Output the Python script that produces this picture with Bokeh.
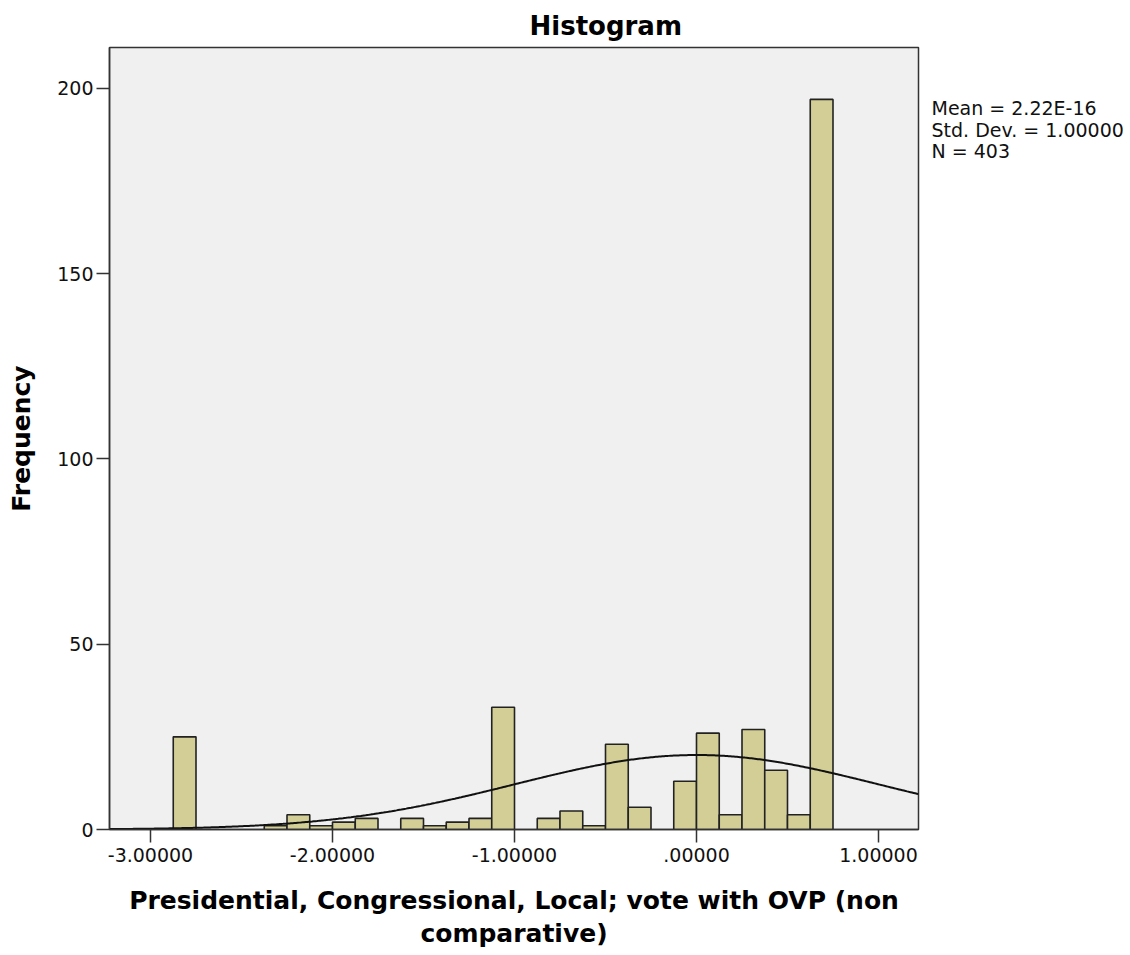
import numpy as np
from bokeh.plotting import figure
from bokeh.layouts import row
from bokeh.models import Range1d, FixedTicker, ColumnDataSource, Title
from bokeh.core.properties import value
from bokeh.embed import file_html
from bokeh.resources import INLINE

# ---- data ----
bin_start = -2.875
bin_width = 0.125
counts = [25, 0, 0, 0, 1, 4, 1, 2, 3, 0, 3, 1, 2, 3, 33,
          0, 3, 5, 1, 23, 6, 0, 13, 26, 4, 27, 16, 4, 197]
mean_val = 2.22e-16
std_dev = 1.0
n_total = 403
x_ticks = [-3, -2, -1, 0, 1]
x_tick_labels = ["-3.00000", "-2.00000", "-1.00000", ".00000", "1.00000"]
y_ticks = [0, 50, 100, 150, 200]
y_tick_labels = ["0", "50", "100", "150", "200"]
stats_lines = ["Mean = 2.22E-16", "Std. Dev. = 1.00000", "N = 403"]
title_text = "Histogram"
y_label = "Frequency"
x_label = "Presidential, Congressional, Local; vote with OVP (non\ncomparative)"

X0, X1 = -3.2253, 1.2198
Y0, Y1 = 0, 211.0
FONT = "DejaVu Sans"
DARK = "#333333"

lefts = [bin_start + i * bin_width for i, c in enumerate(counts) if c > 0]
rights = [l + bin_width for l in lefts]
tops = [c for c in counts if c > 0]
src = ColumnDataSource(dict(left=lefts, right=rights, top=tops, bottom=[0] * len(tops)))

p = figure(width=925, height=955, output_backend="svg", toolbar_location=None,
           x_range=Range1d(X0, X1), y_range=Range1d(Y0, Y1),
           min_border_left=109, min_border_right=7, min_border_top=47, min_border_bottom=126)
p.background_fill_color = "#F0F0F0"
p.border_fill_color = "white"
p.outline_line_color = DARK
p.outline_line_width = 1.5
p.xgrid.visible = False
p.ygrid.visible = False

p.quad(left="left", right="right", top="top", bottom="bottom", source=src,
       fill_color="#D3CE96", line_color="#222222", line_width=1.6)

xs = np.linspace(X0, X1, 500)
ys = n_total * bin_width * np.exp(-0.5 * ((xs - mean_val) / std_dev) ** 2) / (std_dev * np.sqrt(2 * np.pi))
p.line(xs, ys, line_color="#111111", line_width=2)

for ax in (p.xaxis[0], p.yaxis[0]):
    ax.minor_tick_line_color = None
    ax.major_tick_out = 13
    ax.major_tick_in = 0
    ax.major_tick_line_color = DARK
    ax.major_tick_line_width = 1.5
    ax.axis_line_color = DARK
    ax.axis_line_width = 1.5
    ax.major_label_text_font = FONT
    ax.major_label_text_font_size = "19px"
    ax.major_label_text_color = "#111111"
    ax.axis_label_text_font = FONT
    ax.axis_label_text_font_size = "25px"
    ax.axis_label_text_font_style = "bold"
    ax.axis_label_text_color = "black"

p.xaxis.ticker = FixedTicker(ticks=x_ticks)
p.xaxis.major_label_overrides = {t: s for t, s in zip(x_ticks, x_tick_labels)}
p.xaxis.major_label_standoff = 5
p.xaxis.axis_label = x_label
p.xaxis.axis_label_standoff = 21
p.xaxis.axis_label_text_line_height = 1.15

p.yaxis.ticker = FixedTicker(ticks=y_ticks)
p.yaxis.major_label_overrides = {t: s for t, s in zip(y_ticks, y_tick_labels)}
p.yaxis.major_label_standoff = 3
p.yaxis.axis_label = y_label
p.yaxis.axis_label_standoff = 18

p.add_layout(Title(text=title_text, align="left", offset=420, text_font=FONT,
                   text_font_size="26px", text_font_style="bold", text_color="black",
                   standoff=13), "above")

# stats panel to the right of the chart; its frame is aligned with the chart frame (y 47..829)
q = figure(width=205, height=955, output_backend="svg", toolbar_location=None,
           x_range=Range1d(0, 205), y_range=Range1d(829, 47),
           x_axis_location=None, y_axis_location=None,
           min_border_left=0, min_border_right=0, min_border_top=47, min_border_bottom=126)
q.outline_line_color = None
q.background_fill_color = "white"
q.border_fill_color = "white"
q.xgrid.visible = False
q.ygrid.visible = False
q.text(x=[6, 6, 6], y=[107.5, 129, 150.5], text=stats_lines,
       text_font=value(FONT), text_font_size=value("19px"),
       text_align="left", text_baseline="alphabetic", text_color="#111111")

open("out.html", "w").write(file_html(row(p, q), INLINE))
